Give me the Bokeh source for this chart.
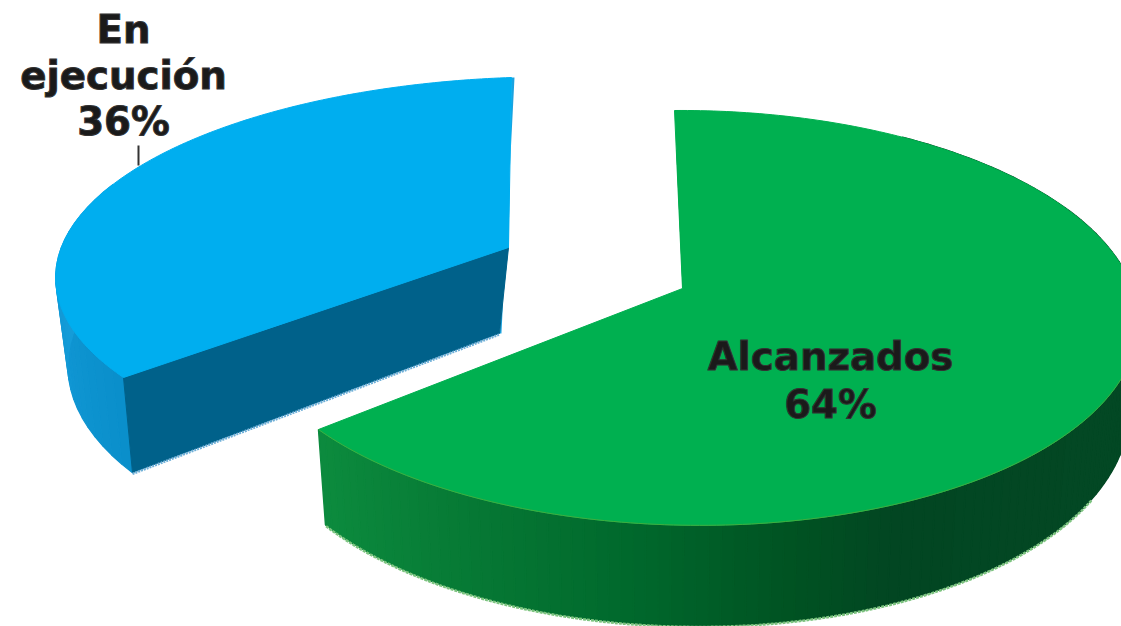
import numpy as np
from bokeh.plotting import figure
from bokeh.models import Range1d
from bokeh.embed import file_html
from bokeh.resources import INLINE
from bokeh.core.properties import value

# --- data -------------------------------------------------------------
categories = ["Alcanzados", "En ejecución"]
shares = [64, 36]
label_lines = [["Alcanzados", "64%"], ["En", "ejecución", "36%"]]

# --- styling / layout of the tilted 3D discs ---------------------------
top_colors = ["#00B050", "#00AEEF"]
cut_color = "#00618A"
blue_wall = [(10, 143, 203), (27, 163, 224)]
green_stops_x = [320, 480, 640, 800, 900, 1121]
green_stops_c = [(12, 139, 62), (6, 120, 52), (0, 104, 44), (0, 82, 34), (2, 70, 34), (3, 72, 36)]
# anchors of each disc on screen: apex, start of arc, end of arc, middle of arc
anchors = [
    dict(apex=(682, 288), start=(674, 110), end=(318, 429), mid=(1119, 381)),
    dict(apex=(508, 247), start=(123, 377), end=(511, 77), mid=(122, 177)),
]
depth = 86
converge = [(668, 0.98), (315, 0.953)]


def hexcol(c):
    return "#%02X%02X%02X" % tuple(int(round(v)) for v in c)


def homography(src, dst):
    rows, rhs = [], []
    for (u, v), (x, y) in zip(src, dst):
        rows.append([u, v, 1, 0, 0, 0, -u * x, -v * x]); rhs.append(x)
        rows.append([0, 0, 0, u, v, 1, -u * y, -v * y]); rhs.append(y)
    return np.append(np.linalg.solve(np.array(rows, float), np.array(rhs, float)), 1.0).reshape(3, 3)


def disc(theta):
    return np.sin(theta), -np.cos(theta)


def project(H, theta):
    u, v = disc(np.asarray(theta, float))
    w = H[2, 0] * u + H[2, 1] * v + 1
    return (H[0, 0] * u + H[0, 1] * v + H[0, 2]) / w, (H[1, 0] * u + H[1, 1] * v + H[1, 2]) / w, v


def bottom(x, y, v, k):
    xc, g = converge[k]
    return xc + (x - xc) * g, y + depth * (1 + 0.17 * v)


p = figure(width=1121, height=626, output_backend="svg", toolbar_location=None,
           x_range=Range1d(0, 1121), y_range=Range1d(626, 0),
           min_border=0, outline_line_color=None, background_fill_color="white")
p.axis.visible = False
p.grid.visible = False

# slice angles from the shares
total = sum(shares)
a0 = 0.0
spans = []
for s in shares:
    a1 = a0 + 2 * np.pi * s / total
    spans.append((a0, a1))
    a0 = a1

homs = []
for k, (a, b) in enumerate(spans):
    t = [a, b, (a + b) / 2]
    src = [(0.0, 0.0)] + [disc(x) for x in t]
    c = anchors[k]
    homs.append(homography(src, [c["apex"], c["start"], c["end"], c["mid"]]))

# ---- blue slice (drawn first) ----
H = homs[1]
a, b = spans[1]
th = np.linspace(a, b, 160)
x, y, v = project(H, th)
xa, ya = anchors[1]["apex"]
xab, yab = bottom(np.array([xa]), np.array([ya]), 0.0, 1)
# curved wall
wall_th = np.linspace(a, a + (b - a) * 0.48, 24)
wx, wy, wv = project(H, wall_th)
wxb, wyb = bottom(wx, wy, wv, 1)
for i in range(len(wall_th) - 1):
    f = i / (len(wall_th) - 2)
    col = hexcol([blue_wall[0][j] + (blue_wall[1][j] - blue_wall[0][j]) * f for j in range(3)])
    p.patch([wx[i], wx[i + 1], wxb[i + 1], wxb[i]], [wy[i], wy[i + 1], wyb[i + 1], wyb[i]],
            fill_color=col, line_color=col, line_width=1.2)
# right hand sliver
sx, sy = anchors[1]["end"]
p.patch([sx, sx + 3, xab[0] + 2, xab[0], xa], [sy, sy, yab[0], yab[0], ya],
        fill_color="#1BA3E0", line_color=None)
# cut face
cx, cy, cv = project(H, np.array([a]))
cxb, cyb = bottom(cx, cy, cv, 1)
p.patch([cx[0], xa, xab[0], cxb[0]], [cy[0], ya, yab[0], cyb[0]], fill_color=cut_color, line_color=cut_color)
p.line([cxb[0], xab[0]], [cyb[0] + 1, yab[0] + 1], line_color="#6FB0D8", line_width=2.5, line_dash="2 1")
# top
p.patch(np.r_[xa, x], np.r_[ya, y], fill_color=top_colors[1], line_color=top_colors[1], line_width=1)

# ---- green slice ----
H = homs[0]
a, b = spans[0]
xa, ya = anchors[0]["apex"]
# inner sliver
sx, sy = anchors[0]["start"]
ex, ey = xa + (sx - xa) * 0.78, ya + (sy - ya) * 0.78
p.patch([xa, ex, ex + 2, xa + 2, xa - 4], [ya, ey, ey, ya, ya], fill_color="#0A4F28", line_color=None)
# curved wall
wall_th = np.linspace(a + (b - a) * 0.15, b, 140)
wx, wy, wv = project(H, wall_th)
wxb, wyb = bottom(wx, wy, wv, 0)
for i in range(len(wall_th) - 1):
    c = [np.interp(wx[i], green_stops_x, [s[j] for s in green_stops_c]) for j in range(3)]
    col = hexcol(c)
    p.patch([wx[i], wx[i + 1], wxb[i + 1], wxb[i]], [wy[i], wy[i + 1], wyb[i + 1], wyb[i]],
            fill_color=col, line_color=col, line_width=1.5)
keep = (wxb < 1093) & (wv > 0.3)
p.line(wxb[keep], wyb[keep] + 1, line_color="#7CC47F", line_width=2.5, line_dash="3 1")
# top
tx, ty, _ = project(H, np.linspace(a, b, 240))
p.patch(np.r_[xa, tx], np.r_[ya, ty], fill_color=top_colors[0], line_color=top_colors[0], line_width=1)
p.line(tx[90:], ty[90:], line_color="#3FAE3F", line_width=1)

# ---- labels ----
font = value("DejaVu Sans")
label_pos = [(830, 356, 48), (123, 29, 46)]
for lines, (lx, ly, step) in zip(label_lines, label_pos):
    xs = [lx] * len(lines)
    ys = [ly + i * step for i in range(len(lines))]
    p.text(xs, ys, text=lines, text_font=font, text_font_style="bold", text_font_size="38.7px",
           text_align="center", text_baseline="alphabetic", text_color="#1A1A1A",
           text_outline_color="#333333")
p.line([138, 138], [145, 165], line_color="#333333", line_width=2)

open("out.html", "w").write(file_html(p, INLINE))
